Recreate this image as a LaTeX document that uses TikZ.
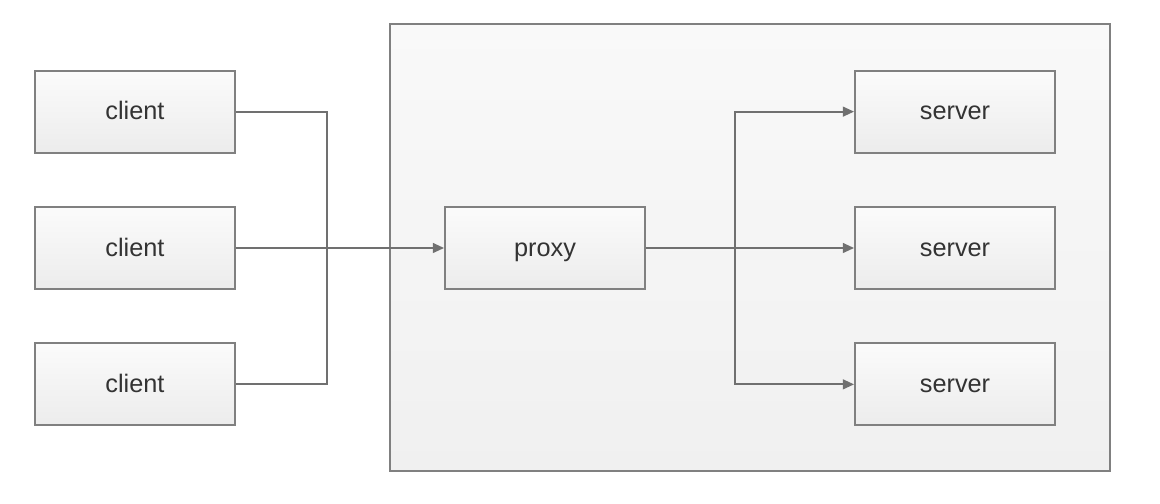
\documentclass[tikz,border=0pt]{standalone}
\usepackage{fontspec}
\setmainfont{Liberation Sans}
\usepackage{tikz}
\usetikzlibrary{positioning,arrows.meta,shadows}

\definecolor{boxline}{HTML}{808080}
\definecolor{wire}{HTML}{707070}
\definecolor{boxtop}{HTML}{FBFBFB}
\definecolor{boxbottom}{HTML}{ECECEC}
\definecolor{areafill}{HTML}{F5F5F5}
\definecolor{label}{HTML}{333333}

\begin{document}
\begin{tikzpicture} [x=0.025cm, y=-0.025cm,
every node/.style={font=\fontsize{18}{21}\selectfont, text=label},
unit/.style={rectangle, draw=boxline, line width=1.3pt, top color=boxtop, bottom color=boxbottom,
  minimum width=5cm, minimum height=2.05cm, inner sep=0pt, text height=11.4pt, text depth=0pt,
  drop shadow={shadow xshift=0.8pt, shadow yshift=-0.8pt, opacity=0.18}},
area/.style={rectangle, draw=boxline, line width=1.3pt, top color=areafill!60!white, bottom color=areafill!90!black!20!areafill,
  minimum width=18cm, minimum height=11.175cm, inner sep=0pt},
wire/.style={draw=wire, line width=1.3pt},
tip/.style={wire, -{Triangle[length=8pt,width=7pt]}}]
\useasboundingbox (0,0) rectangle (1160,504);

% the area round proxy and servers
\node[area] (zone) at (750,247.5) {};

% clients on the left
\node[unit] (client2) at (135,248) {client};
\node[unit, above=1.3125cm of client2] (client1) {client};
\node[unit, below=1.3125cm of client2] (client3) {client};

% proxy
\node[unit] (proxy) at (545,248) {proxy};

% servers on the right
\node[unit] (server2) at (955,248) {server};
\node[unit, above=1.3125cm of server2] (server1) {server};
\node[unit, below=1.3125cm of server2] (server3) {server};

% joints of the wires
\coordinate (joinc) at (327,248);
\coordinate (joins) at (735,248);

% wires
\draw[wire] (client1.east) -| (joinc |- client3.east) -- (client3.east);
\draw[tip] (client2.east) -- (proxy.west);
\draw[tip] (proxy.east) -- (server2.west);
\draw[tip, {Triangle[length=8pt,width=7pt]}-{Triangle[length=8pt,width=7pt]}] (server1.west) -| (joins |- server3.west) -- (server3.west);
\end{tikzpicture}
\end{document}
